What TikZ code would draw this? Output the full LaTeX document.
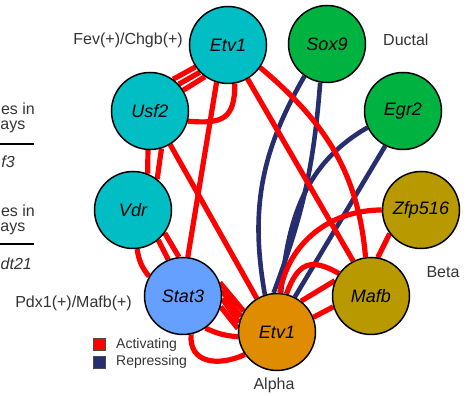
\documentclass[tikz,border=0pt]{standalone}
\usepackage{fontspec}
\setmainfont{Liberation Sans}
\usetikzlibrary{backgrounds}
\definecolor{cyanfill}{RGB}{0,190,196}
\definecolor{greenfill}{RGB}{0,178,64}
\definecolor{olivefill}{RGB}{184,154,0}
\definecolor{orangefill}{RGB}{224,140,0}
\definecolor{bluefill}{RGB}{102,160,255}
\definecolor{actred}{RGB}{255,0,0}
\definecolor{repnavy}{RGB}{38,46,112}

\begin{document}
\begin{tikzpicture}[
  x=1pt, y=1pt,
  gene/.style={circle, draw=black, line width=1.5pt, minimum size=77pt, inner sep=0pt,
               font=\fontsize{18}{20}\selectfont\itshape},
  act/.style={draw=actred, line width=5.2pt},
  rep/.style={draw=repnavy, line width=4.6pt},
  lbl/.style={font=\fontsize{16}{18}\selectfont, text=black!80, inner sep=0pt},
  keytxt/.style={font=\fontsize{14}{16}\selectfont, text=black!80, inner sep=0pt, anchor=west},
  keybox/.style={draw=black!70, line width=1pt, minimum size=12pt, inner sep=0pt}
]
\useasboundingbox (0,0) rectangle (467,396);
\clip (0,0) rectangle (467,396);

\node[gene, fill=cyanfill] (etvA) at (228,351) {Etv1};
\node[gene, fill=greenfill] (sox) at (327,352) {Sox9};
\node[gene, fill=greenfill] (egr) at (403,285) {Egr2};
\node[gene, fill=olivefill] (zfp) at (421,186) {Zfp516};
\node[gene, fill=olivefill] (mafb) at (371,100) {Mafb};
\node[gene, fill=orangefill] (etvB) at (277,64) {Etv1};
\node[gene, fill=bluefill] (stat) at (183,100) {Stat3};
\node[gene, fill=cyanfill] (vdr) at (133,186) {Vdr};
\node[gene, fill=cyanfill] (usf) at (150,285) {Usf2};

\node[lbl, anchor=east] (fev) at (183,356) {Fev(+)/Chgb(+)};
\node[lbl, anchor=west] (duct) at (383,356) {Ductal};
\node[lbl] (beta) at (443,124) {Beta};
\node[lbl, anchor=east] (pdx) at (132,93) {Pdx1(+)/Mafb(+)};
\node[lbl] (alpha) at (274,11) {Alpha};

\node[keybox, fill=actred] (kact) at (99.5,51.5) {};
\node[keybox, fill=repnavy] (krep) at (99.5,33.5) {};
\node[keytxt] (tact) at (116,51) {Activating};
\node[keytxt] (trep) at (116,34) {Repressing};

\node[lbl, anchor=base east] (ga) at (35,281) {es in};
\node[lbl, anchor=base east] (gb) at (25.5,266) {ays};
\node[lbl, anchor=base east] (gc) at (15,228) {\itshape f3};
\node[lbl, anchor=base east] (gd) at (35,179) {es in};
\node[lbl, anchor=base east] (ge) at (25.5,164) {ays};
\node[lbl, anchor=base east] (gf) at (32,126) {\itshape dt21};
\draw[line width=2pt] (0,252) -- (34,252);
\draw[line width=2pt] (0,152) -- (34,152);

\begin{scope}[on background layer]
\draw[rep] (sox.235) to[out=240, in=100] (etvB.108);
\draw[rep] (sox.260) to[bend left=8] (etvB.95);
\draw[rep] (egr.205) to[out=210, in=85] (etvB.84);
\draw[rep] (egr.-117) -- (etvB.63);

\draw[act] (usf.32) -- (etvA.234);
\draw[act] (usf.43) -- (etvA.224);
\draw[act] (usf.54) -- (etvA.214);
\draw[act] (usf.-15) to[out=-5, in=-90, looseness=1.5] (etvA.-80);
\draw[act] (etvA.-107) -- (stat.83);
\draw[act] (usf.-59) -- (etvB.121);
\draw[act] (usf.-93) -- (vdr.68);
\draw[act] (usf.-73) -- (vdr.52);
\draw[act] (vdr.-50) -- (stat.112);
\draw[act] (vdr.-36) -- (stat.96);
\draw[act] (vdr.-84) to[bend right=15] (stat.150);
\draw[act] (stat.20) -- (etvB.148);
\draw[act] (stat.8) -- (etvB.157);
\draw[act] (stat.-4) -- (etvB.166);
\draw[act] (stat.-16) -- (etvB.175);
\draw[act] (stat.-55) to[bend right=10] (etvB.187);
\draw[act] (stat.-78) to[out=-95, in=205, looseness=1.3] (etvB.215);
\draw[act] (etvA.-60) -- (mafb.117);
\draw[act] (etvA.-35) to[out=-40, in=95] (mafb.98);
\draw[act] (zfp.217) -- (mafb.80);
\draw[act] (etvB.86) to[out=80, in=180] (zfp.180);
\draw[act] (etvB.76) to[out=70, in=150, looseness=1.5] (mafb.145);
\draw[act] (etvB.52) -- (mafb.157);
\draw[act] (etvB.22) -- (mafb.196);
\end{scope}
\end{tikzpicture}
\end{document}
